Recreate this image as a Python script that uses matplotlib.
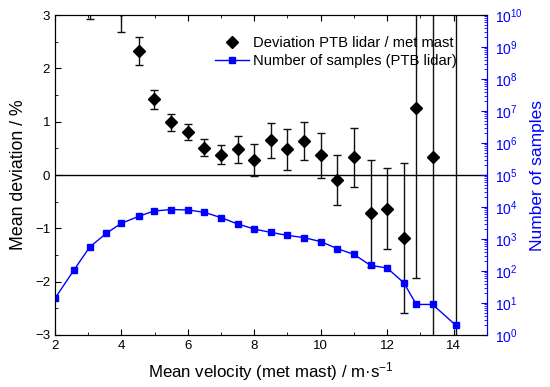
import matplotlib
matplotlib.use("Agg")
import matplotlib.pyplot as plt
from matplotlib.ticker import MultipleLocator, LogLocator, LogFormatterMathtext, NullFormatter
from matplotlib.lines import Line2D

plt.rcParams['font.family'] = ['Liberation Sans', 'DejaVu Sans']
plt.rcParams['mathtext.fontset'] = 'custom'
plt.rcParams['mathtext.rm'] = 'Liberation Sans'
plt.rcParams['mathtext.it'] = 'Liberation Sans:italic'

# Deviation data
dev_x = [3.04, 4.0, 4.52, 4.98, 5.5, 6.0, 6.5, 7.0, 7.5, 8.0, 8.5, 9.0, 9.5, 10.0,
         10.5, 11.0, 11.5, 12.0, 12.5, 12.88, 13.37, 14.07]
dev_y = [3.30, 3.10, 2.33, 1.42, 0.99, 0.80, 0.51, 0.38, 0.48, 0.28, 0.65, 0.48, 0.64, 0.37,
         -0.09, 0.33, -0.72, -0.63, -1.18, 1.25, 0.34, 5.0]
dev_err = [0.38, 0.42, 0.26, 0.18, 0.16, 0.15, 0.16, 0.18, 0.26, 0.30, 0.33, 0.39, 0.36, 0.42,
           0.47, 0.56, 1.01, 0.76, 1.40, 3.18, 4.0, 9.0]

# Number of samples
n_x = [2.0, 2.57, 3.04, 3.54, 4.0, 4.52, 4.98, 5.5, 6.0, 6.5, 7.0, 7.5, 8.0, 8.5, 9.0, 9.5,
       10.0, 10.5, 11.0, 11.5, 12.0, 12.5, 12.88, 13.37, 14.07]
n_y = [14, 107, 550, 1500, 3100, 5100, 7500, 8300, 8100, 6800, 4650, 2950, 2050, 1600, 1300,
       1100, 830, 500, 330, 150, 124, 43, 9, 9, 2]

fig = plt.figure(figsize=(5.5, 3.87), dpi=100)
ax = fig.add_axes([0.1, 0.1344, 0.785, 0.8268])
ax2 = ax.twinx()

ax.axhline(0, color='black', lw=1.0, zorder=1)
ax.errorbar(dev_x, dev_y, yerr=dev_err, fmt='D', color='black', ms=6,
            ecolor='#111111', elinewidth=1.0, capsize=3, capthick=1.0, zorder=3)

ax2.plot(n_x, n_y, '-s', color='#0000ff', ms=5, lw=1.0, zorder=2)
ax2.set_yscale('log')
ax2.set_ylim(1, 1e10)

ax.set_xlim(2, 15)
ax.set_ylim(-3, 3)
ax.xaxis.set_major_locator(MultipleLocator(2))
ax.xaxis.set_minor_locator(MultipleLocator(1))
ax.yaxis.set_major_locator(MultipleLocator(1))
ax.yaxis.set_minor_locator(MultipleLocator(0.5))
ax.tick_params(which='both', direction='in', top=True, labelsize=9.5)
ax.tick_params(which='major', length=4.5)
ax.tick_params(which='minor', length=2.5)
ax.set_yticks([-3, -2, -1, 0, 1, 2, 3])
ax.set_yticklabels(['\u22123', '\u22122', '\u22121', '0', '1', '2', '3'])

ax2.yaxis.set_major_locator(LogLocator(base=10, numticks=15))
ax2.yaxis.set_major_formatter(LogFormatterMathtext())
ax2.yaxis.set_minor_locator(LogLocator(base=10, subs=range(2, 10), numticks=15))
ax2.yaxis.set_minor_formatter(NullFormatter())
ax2.tick_params(which='both', direction='in', colors='#0000ff', labelsize=10, pad=6)
ax2.tick_params(which='major', length=4.5)
ax2.tick_params(which='minor', length=2)
ax2.spines['right'].set_color('#0000ff')

ax.set_xlabel('Mean velocity (met mast) / m\u00b7s$^{-1}$', fontsize=12.2, labelpad=6)
ax.set_ylabel('Mean deviation / %', fontsize=12.8, labelpad=6)
ax2.set_ylabel('Number of samples', fontsize=12.5, color='#0000ff', labelpad=5)

handles = [Line2D([], [], marker='D', color='black', ls='none', ms=6),
           Line2D([], [], marker='s', color='#0000ff', ls='-', ms=5, lw=1.0)]
labels = ['Deviation PTB lidar / met mast', 'Number of samples (PTB lidar)']
ax2.legend(handles, labels, loc='upper left', bbox_to_anchor=(0.370, 0.933), frameon=False,
           borderpad=0, borderaxespad=0,
           fontsize=10.6, handlelength=2.3, handletextpad=0.3, labelspacing=0.25)

fig.savefig('out.png', dpi=100)
